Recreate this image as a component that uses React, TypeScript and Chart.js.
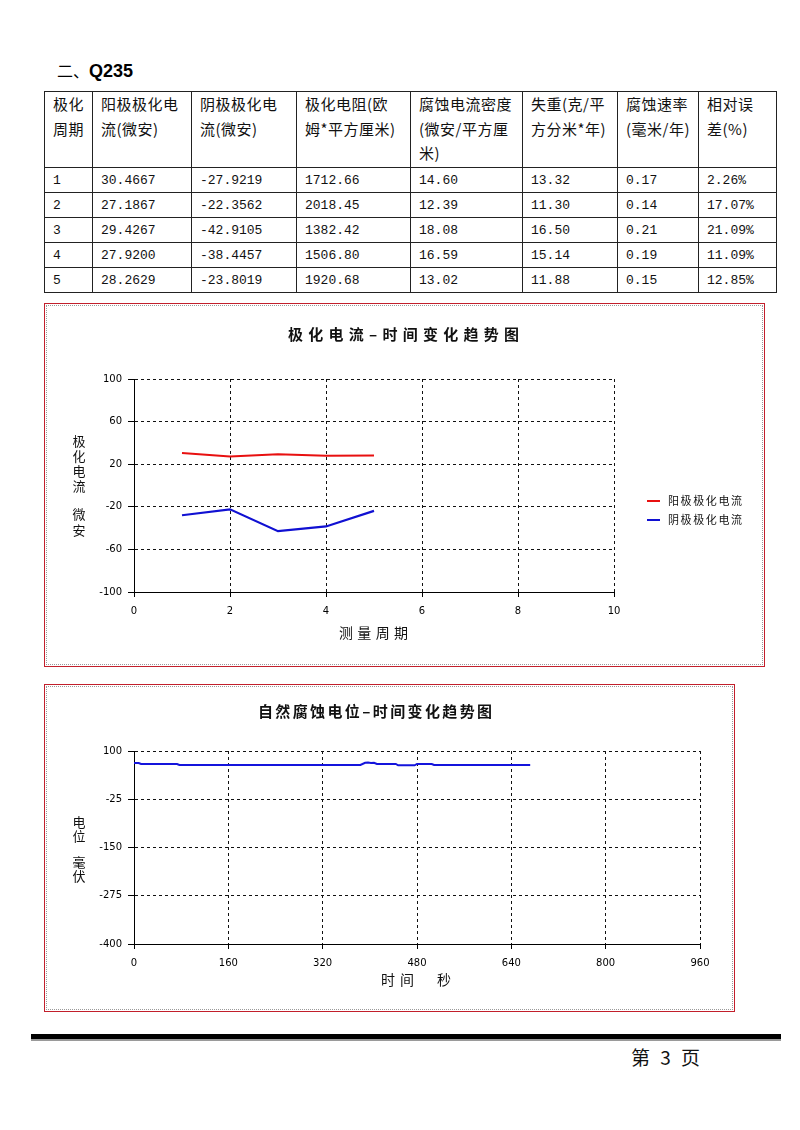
import React, { useEffect, useRef } from 'react';
import { Chart, registerables } from 'chart.js';

Chart.register(...registerables);

// ---------------- data ----------------
const periods = [1, 2, 3, 4, 5];
const anodicCurrent = [30.4667, 27.1867, 29.4267, 27.92, 28.2629];
const cathodicCurrent = [-27.9219, -22.3562, -42.9105, -38.4457, -23.8019];
const polarResistance = [1712.66, 2018.45, 1382.42, 1506.8, 1920.68];
const corrDensity = [14.6, 12.39, 18.08, 16.59, 13.02];
const weightLoss = [13.32, 11.3, 16.5, 15.14, 11.88];
const corrRate = [0.17, 0.14, 0.21, 0.19, 0.15];
const relError = [2.26, 17.07, 21.09, 11.09, 12.85];

const headerLines = [
  ['极化', '周期'],
  ['阳极极化电', '流(微安)'],
  ['阴极极化电', '流(微安)'],
  ['极化电阻(欧', '姆*平方厘米)'],
  ['腐蚀电流密度', '(微安/平方厘', '米)'],
  ['失重(克/平', '方分米*年)'],
  ['腐蚀速率', '(毫米/年)'],
  ['相对误', '差(%)'],
];

const seriesNames1 = ['阳极极化电流', '阴极极化电流'];
const xTicks1 = [0, 2, 4, 6, 8, 10];
const yTicks1 = [-100, -60, -20, 20, 60, 100];

const potentialTimes = [0, 8, 12, 73, 77, 384, 392, 397, 402, 407, 412, 444, 448, 476, 480, 505, 509, 672];
const potentialValues = [69, 69, 66.4, 66.4, 63.8, 63.8, 69.5, 70, 69, 69.5, 66.4, 66.4, 63, 63, 66.4, 66.4, 63.8, 63.8];
const seriesName2 = '自然腐蚀电位';
const xTicks2 = [0, 160, 320, 480, 640, 800, 960];
const yTicks2 = [-400, -275, -150, -25, 100];

// ---------------- helpers ----------------
const CJK = '"Noto Sans CJK SC"';

function drawSpaced(ctx: CanvasRenderingContext2D, text: string, left: number, right: number, cy: number, font: string, color = '#111') {
  ctx.save();
  ctx.font = font;
  ctx.fillStyle = color;
  ctx.textBaseline = 'middle';
  ctx.textAlign = 'left';
  const chars = Array.from(text);
  const widths = chars.map((c) => ctx.measureText(c).width);
  const total = widths.reduce((a, b) => a + b, 0);
  const gap = chars.length > 1 ? (right - left - total) / (chars.length - 1) : 0;
  let x = left;
  chars.forEach((c, i) => {
    ctx.fillText(c, x, cy);
    x += widths[i] + gap;
  });
  ctx.restore();
}

type Txt = { text: string; left: number; right: number; y: number; font: string };
type Stack = { chars: string[]; x: number; ys: number[]; font: string };
type Leg = { x1: number; x2: number; textLeft: number; textRight: number; ys: number[]; font: string } | null;

function makeDecor(ox: number, oy: number, texts: Txt[], stack: Stack, legend: Leg) {
  return {
    id: 'decor',
    afterDraw(chart: any) {
      const ctx: CanvasRenderingContext2D = chart.ctx;
      texts.forEach((t) => drawSpaced(ctx, t.text, t.left - ox, t.right - ox, t.y - oy, t.font));
      ctx.save();
      ctx.font = stack.font;
      ctx.textAlign = 'center';
      ctx.textBaseline = 'middle';
      ctx.fillStyle = '#111';
      stack.chars.forEach((c, i) => ctx.fillText(c, stack.x - ox, stack.ys[i] - oy));
      ctx.restore();
      if (legend) {
        chart.data.datasets.forEach((ds: any, i: number) => {
          const y = legend.ys[i] - oy;
          ctx.save();
          ctx.strokeStyle = ds.borderColor;
          ctx.lineWidth = 2;
          ctx.beginPath();
          ctx.moveTo(legend.x1 - ox, y);
          ctx.lineTo(legend.x2 - ox, y);
          ctx.stroke();
          ctx.restore();
          drawSpaced(ctx, ds.label, legend.textLeft - ox, legend.textRight - ox, y, legend.font);
        });
      }
    },
  };
}

function axis(ticksArr: number[], isX: boolean, fit: number) {
  return {
    type: 'linear' as const,
    min: ticksArr[0],
    max: ticksArr[ticksArr.length - 1],
    afterBuildTicks: (s: any) => {
      s.ticks = ticksArr.map((v) => ({ value: v }));
    },
    afterFit: (s: any) => {
      if (isX) s.height = fit;
      else s.width = fit;
    },
    ticks: {
      color: '#000',
      font: { family: 'DejaVu Sans', size: 10 },
      padding: isX ? 8 : 6,
      autoSkip: false,
      maxRotation: 0,
    },
    grid: {
      color: '#111',
      lineWidth: 1,
      tickLength: isX ? 5 : 6,
      tickColor: '#000',
      tickBorderDash: [],
      drawTicks: true,
    },
    border: { display: true, color: '#000', width: 1, dash: [3, 3] },
  };
}

function ChartCanvas({ left, top, width, height, make }: { left: number; top: number; width: number; height: number; make: (c: HTMLCanvasElement) => Chart }) {
  const ref = useRef<HTMLCanvasElement | null>(null);
  useEffect(() => {
    if (!ref.current) return;
    const ch = make(ref.current);
    return () => ch.destroy();
  }, []);
  return <canvas ref={ref} width={width} height={height} style={{ position: 'absolute', left, top, width, height }} />;
}

function Frame({ left, top, width, height }: { left: number; top: number; width: number; height: number }) {
  return (
    <div style={{ position: 'absolute', left, top, width, height, boxSizing: 'border-box', border: '1px solid #c21f2b' }}>
      <div style={{ position: 'absolute', left: 1, top: 1, right: 1, bottom: 1, border: '1px dotted #9a9a9a' }} />
    </div>
  );
}

// ---------------- charts ----------------
const C1 = { left: 46, top: 305, width: 717, height: 360 };
const C2 = { left: 46, top: 686, width: 687, height: 324 };

function makeChart1(canvas: HTMLCanvasElement) {
  const decor = makeDecor(
    C1.left,
    C1.top,
    [
      { text: '极化电流–时间变化趋势图', left: 288, right: 519, y: 334, font: `bold 15px ${CJK}` },
      { text: '测量周期', left: 339, right: 408, y: 633, font: `14px ${CJK}` },
    ],
    { chars: ['极', '化', '电', '流', '微', '安'], x: 79, ys: [441, 456, 471, 486, 514, 530], font: `13px ${CJK}` },
    { x1: 647, x2: 660, textLeft: 668, textRight: 742, ys: [501, 520], font: `11px ${CJK}` }
  );
  return new Chart(canvas, {
    type: 'line',
    data: {
      datasets: [
        {
          label: seriesNames1[0],
          data: periods.map((p, i) => ({ x: p, y: anodicCurrent[i] })),
          borderColor: 'rgb(232,16,16)',
          borderWidth: 2,
          pointRadius: 0,
          tension: 0,
          fill: false,
        },
        {
          label: seriesNames1[1],
          data: periods.map((p, i) => ({ x: p, y: cathodicCurrent[i] })),
          borderColor: 'rgb(16,16,210)',
          borderWidth: 2.2,
          pointRadius: 0,
          tension: 0,
          fill: false,
        },
      ],
    },
    options: {
      responsive: false,
      animation: false,
      events: [],
      layout: { padding: { left: 48, top: 74, right: 149, bottom: 43 } },
      plugins: { legend: { display: false }, title: { display: false }, tooltip: { enabled: false } },
      scales: { x: axis(xTicks1, true, 30) as any, y: axis(yTicks1, false, 40) as any },
    },
    plugins: [decor as any],
  });
}

function makeChart2(canvas: HTMLCanvasElement) {
  const decor = makeDecor(
    C2.left,
    C2.top,
    [
      { text: '自然腐蚀电位–时间变化趋势图', left: 258, right: 492, y: 711, font: `bold 15px ${CJK}` },
      { text: '时间', left: 381, right: 414, y: 980, font: `14px ${CJK}` },
      { text: '秒', left: 437, right: 453, y: 980, font: `14px ${CJK}` },
    ],
    { chars: ['电', '位', '毫', '伏'], x: 79, ys: [822, 836, 862, 876], font: `13px ${CJK}` },
    null
  );
  return new Chart(canvas, {
    type: 'line',
    data: {
      datasets: [
        {
          label: seriesName2,
          data: potentialTimes.map((t, i) => ({ x: t, y: potentialValues[i] })),
          borderColor: 'rgb(20,20,220)',
          borderWidth: 2,
          pointRadius: 0,
          tension: 0,
          fill: false,
        },
      ],
    },
    options: {
      responsive: false,
      animation: false,
      events: [],
      layout: { padding: { left: 48, top: 65, right: 33, bottom: 36 } },
      plugins: { legend: { display: false }, title: { display: false }, tooltip: { enabled: false } },
      scales: { x: axis(xTicks2, true, 30) as any, y: axis(yTicks2, false, 40) as any },
    },
    plugins: [decor as any],
  });
}

// ---------------- page ----------------
const colWidths = [48, 99, 105, 114, 112, 95, 81, 78];

export default function App() {
  const cellBorder = '1px solid #222';
  const headCell: React.CSSProperties = {
    border: cellBorder,
    padding: '0 0 0 8px',
    verticalAlign: 'top',
    fontFamily: CJK,
    fontSize: 15,
    lineHeight: '24.5px',
    letterSpacing: '0.5px',
    whiteSpace: 'nowrap',
    color: '#111',
  };
  const dataCell: React.CSSProperties = {
    border: cellBorder,
    padding: '0 0 0 8px',
    verticalAlign: 'middle',
    fontFamily: '"Liberation Mono", "DejaVu Sans Mono", monospace',
    fontSize: 13,
    lineHeight: '23px',
    whiteSpace: 'nowrap',
    color: '#111',
  };
  const rows = periods.map((p, i) => [
    String(p),
    anodicCurrent[i].toFixed(4),
    cathodicCurrent[i].toFixed(4),
    polarResistance[i].toFixed(2),
    corrDensity[i].toFixed(2),
    weightLoss[i].toFixed(2),
    corrRate[i].toFixed(2),
    relError[i].toFixed(2) + '%',
  ]);

  return (
    <div style={{ position: 'absolute', left: 0, top: 0, width: 800, height: 1130, background: '#fff', overflow: 'hidden' }}>
      <div style={{ position: 'absolute', left: 57, top: 58, fontFamily: CJK, color: '#000', whiteSpace: 'nowrap' }}>
        <span style={{ fontSize: 16, fontWeight: 400 }}>二、</span>
        <span style={{ fontSize: 18, fontWeight: 700, fontFamily: '"Liberation Sans", Arial, sans-serif' }}>Q235</span>
      </div>

      <table
        style={{
          position: 'absolute',
          left: 44,
          top: 91,
          borderCollapse: 'collapse',
          tableLayout: 'fixed',
          width: colWidths.reduce((a, b) => a + b, 0),
        }}
      >
        <colgroup>
          {colWidths.map((w, i) => (
            <col key={i} style={{ width: w }} />
          ))}
        </colgroup>
        <tbody>
          <tr style={{ height: 76 }}>
            {headerLines.map((lines, i) => (
              <td key={i} style={headCell}>
                {lines.map((l, j) => (
                  <div key={j}>{l}</div>
                ))}
              </td>
            ))}
          </tr>
          {rows.map((r, i) => (
            <tr key={i} style={{ height: 25 }}>
              {r.map((c, j) => (
                <td key={j} style={dataCell}>
                  {c}
                </td>
              ))}
            </tr>
          ))}
        </tbody>
      </table>

      <Frame left={44} top={303} width={721} height={364} />
      <ChartCanvas {...C1} make={makeChart1} />

      <Frame left={44} top={684} width={691} height={328} />
      <ChartCanvas {...C2} make={makeChart2} />

      <div style={{ position: 'absolute', left: 31, top: 1034, width: 750, height: 5, background: '#000' }} />
      <div style={{ position: 'absolute', left: 31, top: 1039, width: 750, height: 2, background: '#9a9a9a' }} />
      <div
        style={{
          position: 'absolute',
          left: 631,
          top: 1044,
          fontFamily: CJK,
          fontSize: 19,
          lineHeight: '26px',
          color: '#111',
          whiteSpace: 'nowrap',
          wordSpacing: 6,
        }}
      >
        第 3 页
      </div>
    </div>
  );
}
